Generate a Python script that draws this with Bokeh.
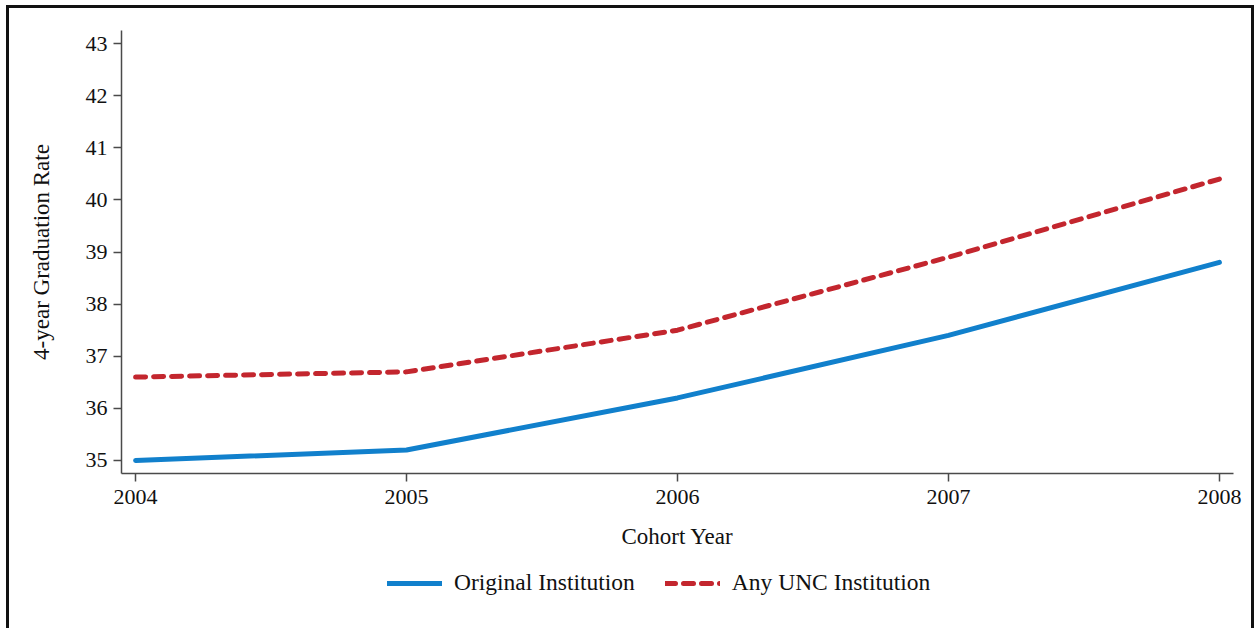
from bokeh.plotting import figure
from bokeh.models import Legend, LegendItem, Range1d, FixedTicker, Column
from bokeh.embed import file_html
from bokeh.resources import INLINE

years = [2004, 2005, 2006, 2007, 2008]
original_inst = [35.0, 35.2, 36.2, 37.4, 38.8]
any_unc = [36.6, 36.7, 37.5, 38.9, 40.4]
y_ticks = [35, 36, 37, 38, 39, 40, 41, 42, 43]
x_ticks = [2004, 2005, 2006, 2007, 2008]
series_names = ["Original Institution", "Any UNC Institution"]

FONT = "Liberation Serif"
BLUE = "#1180cc"
RED = "#c3262e"
AXIS = "#4a4a4a"
TXT = "#111111"

blue_style = dict(line_color=BLUE, line_width=5, line_join="round", line_cap="round")
red_style = dict(line_color=RED, line_width=5, line_dash="10 8", line_cap="round", line_join="round")

p = figure(width=1242, height=560, output_backend="svg", toolbar_location=None,
           x_range=Range1d(2003.948, 2008.052), y_range=Range1d(34.75, 43.25),
           min_border_left=112, min_border_right=18, min_border_top=22, min_border_bottom=95)
p.outline_line_color = None
p.xgrid.grid_line_color = None
p.ygrid.grid_line_color = None

p.line(years, original_inst, **blue_style)
p.line(years, any_unc, **red_style)

for ax in (p.xaxis[0], p.yaxis[0]):
    ax.axis_line_color = AXIS
    ax.axis_line_width = 1.5
    ax.major_tick_line_color = AXIS
    ax.major_tick_line_width = 1.5
    ax.major_tick_out = 8
    ax.major_tick_in = 0
    ax.minor_tick_line_color = None
    ax.major_label_text_font = FONT
    ax.major_label_text_font_size = "22px"
    ax.major_label_text_color = TXT
    ax.axis_label_text_font = FONT
    ax.axis_label_text_font_size = "23px"
    ax.axis_label_text_font_style = "normal"
    ax.axis_label_text_color = TXT

p.xaxis[0].ticker = FixedTicker(ticks=x_ticks)
p.yaxis[0].ticker = FixedTicker(ticks=y_ticks)
p.xaxis[0].axis_label = "Cohort Year"
p.yaxis[0].axis_label = "4-year Graduation Rate"
p.yaxis[0].major_label_orientation = "horizontal"
p.xaxis[0].major_label_standoff = 8
p.yaxis[0].major_label_standoff = 6
p.xaxis[0].axis_label_standoff = 17
p.yaxis[0].axis_label_standoff = 29

# legend strip below the chart: same series drawn out of view, only the legend is visible
q = figure(width=1242, height=60, output_backend="svg", toolbar_location=None,
           x_range=Range1d(0, 1), y_range=Range1d(0, 1), x_axis_type=None, y_axis_type=None,
           min_border=0)
q.outline_line_color = None
q.xgrid.grid_line_color = None
q.ygrid.grid_line_color = None
l1 = q.line(years, original_inst, **blue_style)
l2 = q.line(years, any_unc, **red_style)

legend = Legend(items=[LegendItem(label=series_names[0], renderers=[l1]),
                       LegendItem(label=series_names[1], renderers=[l2])],
                orientation="horizontal", location=(266, 32),
                label_text_font=FONT, label_text_font_size="23.5px", label_text_color=TXT,
                glyph_width=55, glyph_height=20, label_standoff=12, spacing=30,
                padding=0, margin=0, border_line_color=None, background_fill_alpha=0)
q.add_layout(legend, "center")

layout = Column(children=[p, q], spacing=0,
                styles={"margin-left": "6px", "margin-top": "5px",
                        "border-top": "3px solid #111111", "border-left": "3px solid #111111",
                        "border-right": "3px solid #111111"})

open("out.html", "w").write(file_html(layout, INLINE))
